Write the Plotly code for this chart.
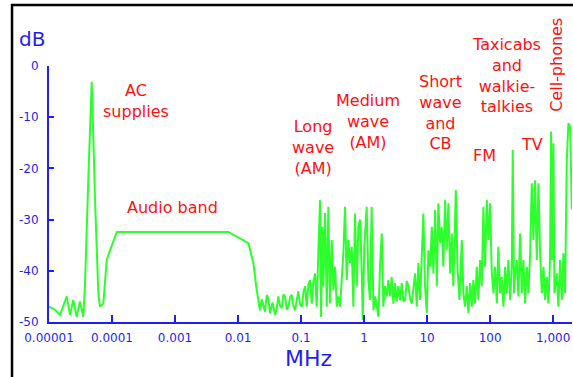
import plotly.graph_objects as go

# Spectrum: frequency (MHz) and level (dB)
freq_mhz = [
    1.0e-5, 1.25e-5, 1.50e-5, 1.69e-5, 1.91e-5, 2.16e-5, 2.43e-5, 2.75e-5, 3.10e-5, 3.50e-5,
    3.72e-5, 4.20e-5, 4.48e-5, 4.76e-5, 5.05e-5, 5.37e-5, 6.06e-5, 6.45e-5, 7.28e-5, 8.24e-5,
    9.29e-5, 1.19e-4, 7.02e-3, 1.08e-2, 1.46e-2, 1.75e-2, 1.98e-2, 2.23e-2, 2.38e-2, 2.52e-2,
    2.68e-2, 2.86e-2, 3.03e-2, 3.22e-2, 3.53e-2, 3.87e-2, 4.11e-2, 4.36e-2, 4.64e-2, 4.94e-2,
    5.24e-2, 5.57e-2, 5.93e-2, 6.29e-2, 6.69e-2, 7.11e-2, 7.55e-2, 8.03e-2, 8.55e-2, 9.06e-2,
    9.64e-2, 0.103, 0.109, 0.116, 0.123, 0.131, 0.139, 0.148, 0.157, 0.167,
    0.177, 0.188, 0.200, 0.208, 0.218, 0.226, 0.240, 0.256, 0.271, 0.288,
    0.307, 0.326, 0.347, 0.369, 0.391, 0.416, 0.443, 0.469, 0.499, 0.531,
    0.563, 0.600, 0.638, 0.676, 0.719, 0.766, 0.812, 0.865, 0.919, 0.953,
    1.01, 1.10, 1.17, 1.24, 1.32, 1.41, 1.50, 1.59, 1.69, 1.79,
    1.91, 2.02, 2.15, 2.29, 2.43, 2.59, 2.75, 2.92, 3.10, 3.30,
    3.50, 3.73, 3.96, 4.22, 4.48, 4.76, 5.05, 5.37, 5.71, 6.45,
    6.87, 7.28, 7.74, 8.24, 8.73, 9.29, 9.89, 10.5, 11.2, 11.9,
    12.6, 13.4, 14.3, 15.1, 16.1, 17.1, 18.1, 19.3, 20.5, 21.8,
    23.2, 24.7, 26.1, 28.6, 30.3, 32.6, 35.6, 37.7, 40.1, 42.7,
    45.3, 48.2, 51.3, 54.3, 57.8, 61.5, 65.2, 69.3, 73.8, 78.3,
    83.3, 88.7, 94.0, 100, 106, 113, 120, 128, 135, 144,
    153, 163, 173, 184, 195, 208, 221, 229, 240, 252,
    265, 282, 299, 318, 338, 359, 383, 406, 432, 459,
    487, 518, 551, 585, 622, 662, 702, 746, 794, 842,
    895, 929, 964, 1012, 1050, 1146, 1214, 1291, 1374, 1456,
    1549, 1648, 1750, 1862, 1982,
]
level_db = [
    -47.0, -47.6, -48.6, -47.0, -45.0, -48.6, -45.7, -49.0, -46.0, -49.0,
    -43.0, -22.3, -9.9, -3.1, -13.8, -26.0, -44.4, -47.0, -46.4, -37.9,
    -36.0, -32.4, -32.4, -33.7, -34.6, -38.5, -43.8, -47.7, -45.6, -46.7,
    -48.0, -44.7, -45.4, -48.3, -46.2, -48.6, -47.4, -45.0, -46.8, -47.3,
    -44.6, -45.0, -47.6, -47.0, -45.2, -44.7, -46.8, -47.7, -45.3, -44.0,
    -46.6, -47.0, -44.2, -43.0, -47.0, -42.6, -41.8, -46.4, -42.0, -40.5,
    -47.0, -38.5, -26.2, -49.0, -31.4, -43.0, -28.7, -47.0, -27.5, -46.4,
    -34.0, -43.8, -39.2, -47.0, -45.0, -47.0, -41.8, -36.6, -27.5, -41.8,
    -34.0, -38.5, -35.3, -47.0, -28.8, -43.0, -31.4, -30.0, -40.5, -49.6,
    -35.3, -27.5, -41.8, -45.7, -27.5, -47.7, -45.0, -47.0, -49.0, -39.2,
    -32.7, -47.0, -43.0, -45.0, -41.8, -45.0, -41.2, -46.4, -42.4, -46.0,
    -43.0, -45.8, -42.4, -46.0, -45.7, -42.0, -43.0, -45.5, -46.4, -40.5,
    -47.0, -38.5, -45.7, -37.2, -28.8, -43.0, -48.3, -36.0, -39.2, -31.4,
    -40.5, -28.1, -43.0, -26.8, -34.6, -31.4, -39.2, -26.2, -36.0, -26.8,
    -40.5, -32.7, -43.0, -24.2, -39.2, -45.7, -34.0, -44.4, -47.0, -43.0,
    -48.3, -42.4, -47.0, -41.8, -46.4, -39.2, -45.7, -37.9, -43.0, -27.5,
    -39.2, -26.2, -34.0, -26.8, -40.0, -44.4, -39.2, -46.4, -35.3, -44.4,
    -41.2, -47.0, -39.2, -44.4, -37.9, -45.7, -39.2, -16.4, -44.4, -40.0,
    -37.9, -45.0, -32.7, -44.4, -37.9, -46.4, -39.2, -44.4, -36.6, -22.9,
    -34.0, -22.3, -37.9, -22.9, -36.6, -44.4, -39.2, -45.7, -41.2, -46.4,
    -37.9, -12.8, -37.9, -15.1, -44.4, -40.5, -47.0, -37.9, -45.7, -36.6,
    -44.4, -18.4, -11.2, -11.8, -28.0,
]

x_tick_vals = [1e-5, 1e-4, 1e-3, 1e-2, 1e-1, 1, 10, 100, 1000]
x_tick_text = ["0.00001", "0.0001", "0.001", "0.01", "0.1", "1", "10", "100", "1,000"]
y_tick_vals = [0, -10, -20, -30, -40, -50]
y_tick_text = ["0", "-10", "-20", "-30", "-40", "-50"]

# Band labels: text, log10(MHz) position, dB position
band_text = ["AC<br>supplies", "Audio band", "Long<br>wave<br>(AM)", "Medium<br>wave<br>(AM)",
             "Short<br>wave<br>and<br>CB", "FM", "Taxicabs<br>and<br>walkie-<br>talkies", "TV"]
band_logx = [-3.619, -3.048, -0.810, 0.063, 1.206, 1.905, 2.254, 2.667]
band_db = [-6.8, -27.7, -15.9, -10.8, -9.0, -17.4, -1.8, -15.4]

BLUE = "#1f1ff5"
RED = "#ff1010"
GREEN = "#2cff2c"
FONT = "DejaVu Sans"

fig = go.Figure()
fig.add_trace(go.Scatter(x=freq_mhz, y=level_db, mode="lines",
                         line=dict(color=GREEN, width=2), hoverinfo="skip"))

for t, lx, ly in zip(band_text, band_logx, band_db):
    fig.add_annotation(x=lx, y=ly, xref="x", yref="y", text=t, showarrow=False,
                       xanchor="center", yanchor="middle",
                       font=dict(family=FONT, size=16, color=RED))

# rotated label sits above the 0 dB line, so place it in paper coordinates
fig.add_annotation(x=0.971, y=1.004, xref="paper", yref="paper", text="Cell-phones",
                   textangle=-90, showarrow=False, xanchor="center", yanchor="middle",
                   font=dict(family=FONT, size=16, color=RED))

fig.add_annotation(x=-0.0325, y=1.105, xref="paper", yref="paper", text="dB", showarrow=False,
                   xanchor="center", yanchor="middle", font=dict(family=FONT, size=20, color=BLUE))
fig.add_annotation(x=0.497, y=-0.141, xref="paper", yref="paper", text="MHz", showarrow=False,
                   xanchor="center", yanchor="middle", font=dict(family=FONT, size=22, color=BLUE))

# outer black frame (only left and top edges visible in the picture)
fig.add_shape(type="rect", xref="paper", yref="paper", x0=-0.0707, x1=1.2, y0=-0.3, y1=1.238,
              line=dict(color="black", width=2.5), layer="above")

fig.update_xaxes(type="log", range=[-5, 3.30], showgrid=False, zeroline=False,
                 showline=True, linecolor=BLUE, linewidth=2,
                 ticks="inside", ticklen=7, tickwidth=2, tickcolor=BLUE,
                 tickvals=x_tick_vals, ticktext=x_tick_text, ticklabelstandoff=4,
                 tickfont=dict(family=FONT, size=12, color=BLUE))
fig.update_yaxes(range=[-50, 0], showgrid=False, zeroline=False,
                 showline=True, linecolor=BLUE, linewidth=2,
                 ticks="inside", ticklen=5, tickwidth=2, tickcolor=BLUE,
                 tickvals=y_tick_vals, ticktext=y_tick_text, ticklabelstandoff=6,
                 tickfont=dict(family=FONT, size=12, color=BLUE))

fig.update_layout(width=573, height=377, margin=dict(l=49, r=1, t=66, b=55),
                  paper_bgcolor="white", plot_bgcolor="white", showlegend=False)

fig.write_html("out.html", config={"displayModeBar": False},
               post_script="document.body.style.margin='0';document.body.style.overflow='hidden';")
